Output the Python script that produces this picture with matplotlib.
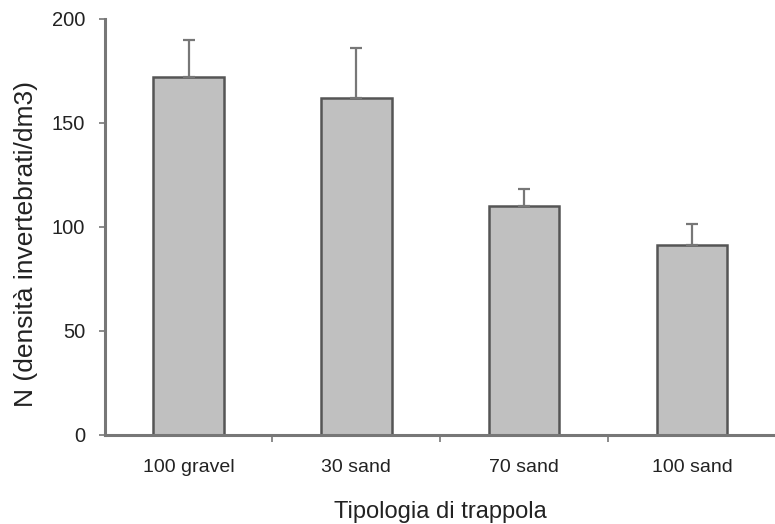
import numpy as np
import matplotlib.pyplot as plt

plt.rcParams['font.family'] = ['Liberation Sans', 'DejaVu Sans']

categorie = ['100 gravel', '30 sand', '70 sand', '100 sand']
medie = [172, 162, 110, 91.5]
errori = [18, 24, 8, 10]
y_ticks = [0, 50, 100, 150, 200]

fig = plt.figure(figsize=(7.75, 5.24), dpi=100)
ax = fig.add_axes([0.135, 0.170, 0.866, 0.794])

x = np.arange(len(categorie))
ax.bar(x, medie, width=0.42, color='#c0c0c0', edgecolor='#555555', linewidth=1.8,
       yerr=[np.zeros(len(errori)), errori], capsize=4,
       error_kw=dict(ecolor='#777777', elinewidth=1.6, capthick=1.6), zorder=2)

ax.set_xlim(-0.5, 3.5)
ax.set_ylim(0, 200)
ax.set_yticks(y_ticks)
ax.set_xticks(x)
ax.set_xticklabels(categorie)
ax.set_xticks(x[:-1] + 0.5, minor=True)
ax.tick_params(axis='x', which='major', length=0, pad=17, labelsize=14, colors='#222222')
ax.tick_params(axis='x', which='minor', length=5, width=1.2, color='#777777', direction='out')
ax.tick_params(axis='y', length=4, width=1.2, color='#777777', pad=10, labelsize=14.5,
               labelcolor='#222222')

for s in ['top', 'right']:
    ax.spines[s].set_visible(False)
for s in ['left', 'bottom']:
    ax.spines[s].set_color('#777777')
    ax.spines[s].set_linewidth(2.2)

ax.set_xlabel('Tipologia di trappola', fontsize=17, labelpad=18, color='#222222')
ax.set_ylabel('N (densità invertebrati/dm3)', fontsize=19, color='#222222')
ax.yaxis.set_label_coords(-0.1, 0.46)

fig.savefig('out.png', dpi=100)
